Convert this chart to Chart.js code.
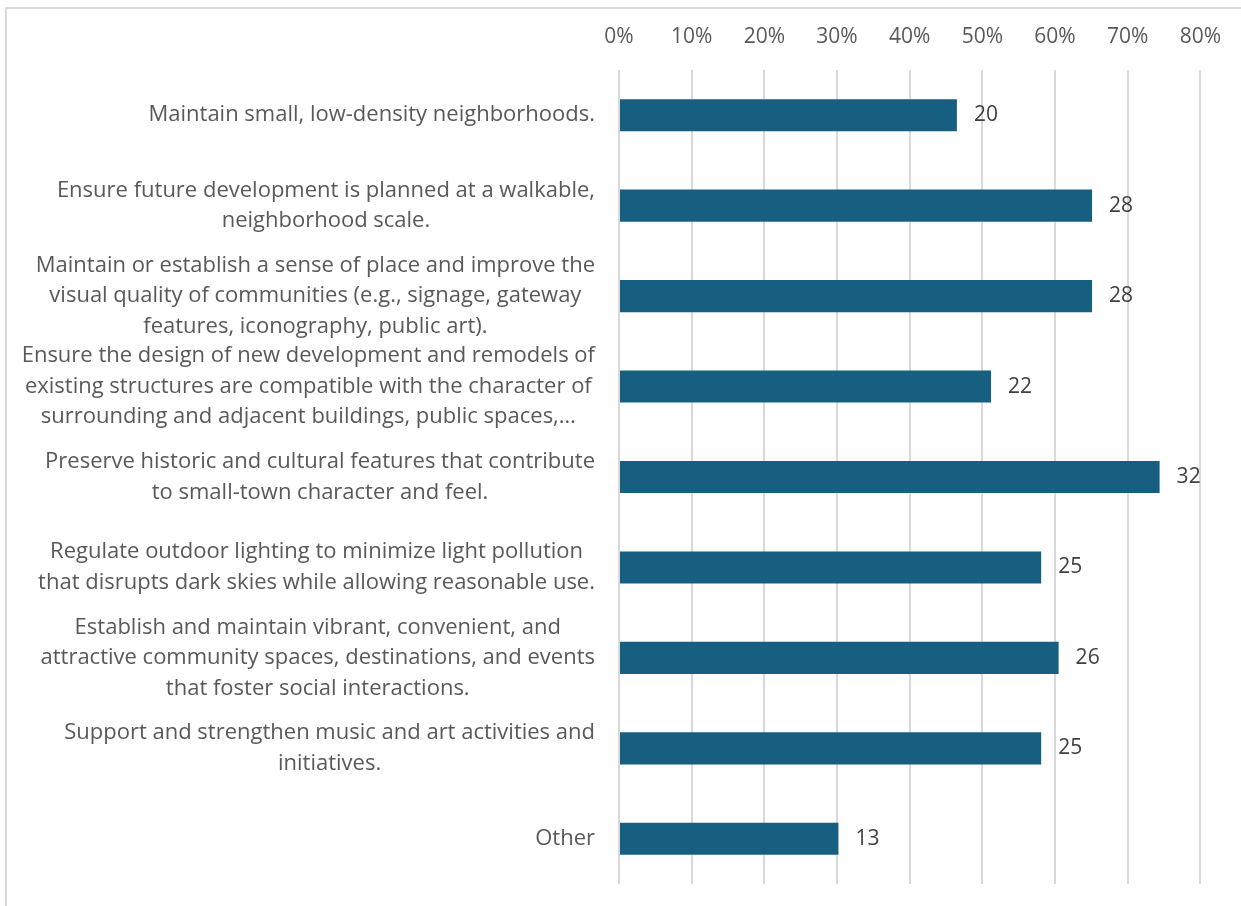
<!DOCTYPE html>
<html>
<head>
<meta charset="utf-8">
<script src="https://cdn.jsdelivr.net/npm/chart.js@4"></script>
<style>
  html, body { margin: 0; padding: 0; background: #ffffff; overflow: hidden; }
  #wrap { position: absolute; left: 0; top: 0; width: 1241px; height: 906px; }
  #frame { position: absolute; left: 5px; top: 7px; width: 1300px; height: 1000px; border: 2px solid #d9d9d9; box-sizing: border-box; }
  canvas { position: absolute; left: 0; top: 0; }
</style>
</head>
<body>
<div id="wrap">
  <div id="frame"></div>
  <canvas id="c" width="1241" height="906"></canvas>
</div>
<script>
const categories = [
  "Maintain small, low-density neighborhoods.",
  ["Ensure future development is planned at a walkable,", "neighborhood scale."],
  ["Maintain or establish a sense of place and improve the", "visual quality of communities (e.g., signage, gateway", "features, iconography, public art)."],
  ["Ensure the design of new development and remodels of", "existing structures are compatible with the character of", "surrounding and adjacent buildings, public spaces,\u2026"],
  ["Preserve historic and cultural features that contribute", "to small-town character and feel."],
  ["Regulate outdoor lighting to minimize light pollution", "that disrupts dark skies while allowing reasonable use."],
  ["Establish and maintain vibrant, convenient, and", "attractive community spaces, destinations, and events", "that foster social interactions."],
  ["Support and strengthen music and art activities and", "initiatives."],
  "Other"
];
const percentValues = [46.5, 65.1, 65.1, 51.2, 74.4, 58.1, 60.5, 58.1, 30.2];
const countLabels = [20, 28, 28, 22, 32, 25, 26, 25, 13];
const xTicks = [0, 10, 20, 30, 40, 50, 60, 70, 80];

const FONT = "'Open Sans', sans-serif";
const CAT_SIZE = 22;
const NUM_SIZE = 21;

const catLabelPlugin = {
  id: 'catLabels',
  afterDraw(chart) {
    const ctx = chart.ctx;
    const ys = chart.scales.y;
    const rightEdge = 595;
    const lh = 30.5;
    ctx.save();
    ctx.font = CAT_SIZE + "px " + FONT;
    ctx.fillStyle = '#595959';
    ctx.textAlign = 'center';
    ctx.textBaseline = 'middle';
    categories.forEach((lab, i) => {
      const lines = Array.isArray(lab) ? lab : [lab];
      const w = Math.max(...lines.map(l => ctx.measureText(l).width));
      const cx = rightEdge - w / 2;
      const cy = ys.getPixelForValue(i);
      const y0 = cy - (lines.length - 1) * lh / 2;
      lines.forEach((l, k) => ctx.fillText(l, cx, y0 + k * lh));
    });
    ctx.restore();
  }
};

const valueLabelPlugin = {
  id: 'valueLabels',
  afterDatasetsDraw(chart) {
    const ctx = chart.ctx;
    const meta = chart.getDatasetMeta(0);
    ctx.save();
    ctx.font = NUM_SIZE + "px " + FONT;
    ctx.fillStyle = '#404040';
    ctx.textAlign = 'left';
    ctx.textBaseline = 'middle';
    meta.data.forEach((bar, i) => {
      ctx.fillText(String(countLabels[i]), bar.x + 17, bar.y);
    });
    ctx.restore();
  }
};

new Chart(document.getElementById('c'), {
  type: 'bar',
  data: {
    labels: categories,
    datasets: [{
      data: percentValues,
      backgroundColor: '#175f80',
      borderWidth: 0,
      categoryPercentage: 1.0,
      barPercentage: 0.355
    }]
  },
  options: {
    indexAxis: 'y',
    responsive: false,
    animation: false,
    devicePixelRatio: 1,
    layout: { padding: { top: 0, left: 0, right: 39, bottom: 22 } },
    plugins: {
      legend: { display: false },
      tooltip: { enabled: false },
      title: { display: false }
    },
    scales: {
      x: {
        position: 'top',
        min: 0,
        max: 80,
        afterBuildTicks(scale) { scale.ticks = xTicks.map(v => ({ value: v })); },
        afterFit(scale) { scale.height = 70; },
        border: { display: false },
        grid: { color: '#d9d9d9', lineWidth: 2, drawTicks: false },
        ticks: {
          padding: 20,
          color: '#595959',
          font: { family: FONT, size: NUM_SIZE },
          callback: v => v + '%'
        }
      },
      y: {
        afterFit(scale) { scale.width = 619; },
        border: { display: false },
        grid: { display: false },
        ticks: { display: false }
      }
    }
  },
  plugins: [catLabelPlugin, valueLabelPlugin]
});
</script>
</body>
</html>
